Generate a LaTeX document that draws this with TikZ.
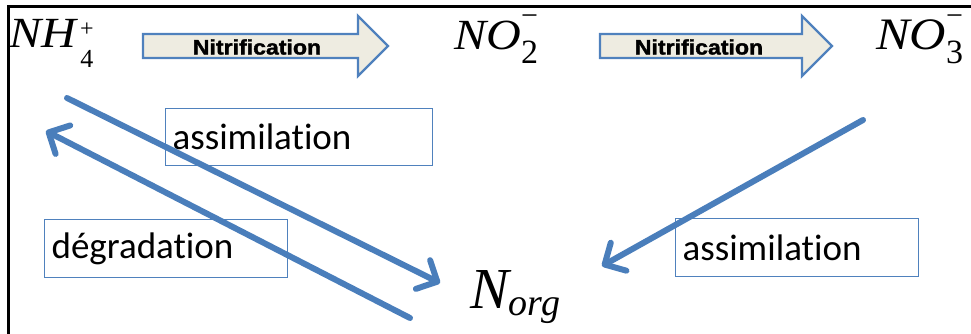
\documentclass[tikz,border=0pt]{standalone}
\usepackage{graphicx}
\usepackage{fontspec}
\setmainfont{Liberation Serif}
\newfontfamily\carlfont{Carlito}[Ligatures=NoCommon]
\newfontfamily\heavyfont{Liberation Sans}[BoldFeatures={FakeBold=1.5}]
\usetikzlibrary{arrows.meta}
\definecolor{ablue}{HTML}{4A7EBB}
\definecolor{bblue}{HTML}{4F81BD}
\definecolor{beige}{HTML}{EEECE1}
\tikzset{
  frameline/.style={line width=3pt, black},
  blockarrow/.style={draw=bblue, fill=beige, line width=2.4pt, line join=miter},
  blocktext/.style={inner sep=0pt, font=\heavyfont\bfseries\fontsize{21}{21}\selectfont},
  species/.style={inner sep=0pt, anchor=base west},
  labelbox/.style={draw=bblue, line width=1.2pt, fill=white, anchor=north west,
    inner xsep=7pt, inner ysep=0pt, align=left,
    font=\carlfont\fontsize{37}{37}\selectfont},
  flowarrow/.style={draw=ablue, line width=6pt, line cap=round,
    -{Straight Barb[length=16pt,width=32pt,line cap=round, line join=round]}},
}
\begin{document}
\begin{tikzpicture}[x=1pt,y=-1pt]
\useasboundingbox (0,0) rectangle (971,334);
% frame
\draw[frameline] (971,7) -- (8,7) -- (8,334);

% species
\node[species] (nh4) at (9,48) {\scalebox{1.12}[1]{\fontsize{43}{43}\selectfont\itshape NH}\rlap{\raisebox{11pt}{\fontsize{24}{24}\selectfont\,+}}\raisebox{-20pt}{\fontsize{26}{26}\selectfont\,4}};
\node[species] (no2) at (454,50) {\scalebox{1.12}[1]{\fontsize{43}{43}\selectfont\itshape NO}\rlap{\raisebox{24pt}{\fontsize{30}{30}\selectfont −}}\raisebox{-14pt}{\fontsize{34}{34}\selectfont 2}};
\node[species] (no3) at (876,50) {\scalebox{1.12}[1]{\fontsize{45}{45}\selectfont\itshape NO}\rlap{\raisebox{24pt}{\fontsize{30}{30}\selectfont −}}\raisebox{-14pt}{\fontsize{34}{34}\selectfont 3}};
\node[species] (norg) at (470,308) {\fontsize{58}{58}\selectfont\itshape N\raisebox{-7pt}{\fontsize{38}{38}\selectfont org}};

% block arrows
\draw[blockarrow] (143,34) -- (358,34) -- (358,16) -- (388,46) -- (358,76) -- (358,58) -- (143,58) -- cycle;
\node[blocktext] (nit1) at (257,47) {\scalebox{1.1}[1]{Nitrification}};
\draw[blockarrow] (600,34) -- (802,34) -- (802,16) -- (832,46) -- (802,76) -- (802,58) -- (600,58) -- cycle;
\node[blocktext] (nit2) at (699,47) {\scalebox{1.1}[1]{Nitrification}};

% label boxes
\node[labelbox, minimum width=267pt, minimum height=57pt, text width=253pt] (b1) at (165,108) {assimilation};
\node[labelbox, minimum width=243pt, minimum height=58pt, text width=229pt] (b2) at (44,219) {dégradation};
\node[labelbox, minimum width=243pt, minimum height=58pt, text width=229pt] (b3) at (675,218) {assimilation};

% arrow end points
\coordinate (aA1) at (67,98);
\coordinate (aA2) at (440,283);
\coordinate (aB1) at (410,318);
\coordinate (aB2) at (46,131);
\coordinate (aC1) at (863,120);
\coordinate (aC2) at (602,266);

\draw[flowarrow] (aA1) -- (aA2);
\draw[flowarrow] (aB1) -- (aB2);
\draw[flowarrow] (aC1) -- (aC2);
\end{tikzpicture}
\end{document}
